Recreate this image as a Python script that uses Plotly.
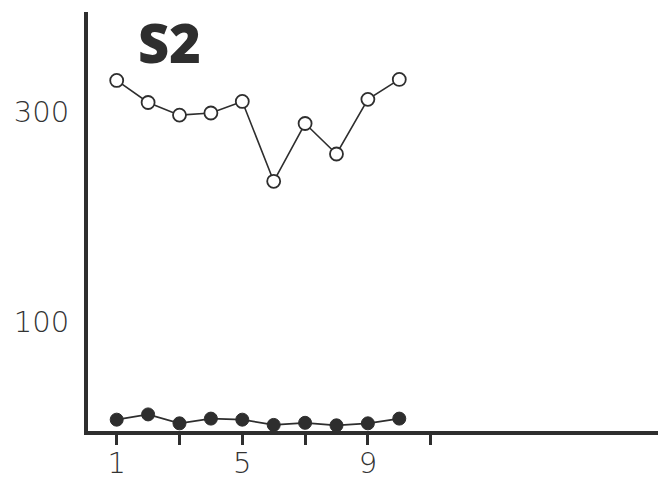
import plotly.graph_objects as go

sessions = [1, 2, 3, 4, 5, 6, 7, 8, 9, 10]
open_vals = [330, 309, 297, 299, 310, 234, 289, 260, 312, 331]
filled_vals = [7, 12, 3.5, 8, 7, 2, 4, 1.6, 3.5, 8]

x_tickvals = [1, 3, 5, 7, 9, 11]
x_ticktext = ["1", "", "5", "", "9", ""]
y_tickvals = [100, 300]
y_ticktext = ["100", "300"]

ink = "#2e2e2e"
label_col = "#333333"
label_font = dict(family="DejaVu Sans", size=29, color=label_col, weight=200)

fig = go.Figure()
fig.add_trace(go.Scatter(
    x=sessions, y=open_vals, mode="lines+markers",
    line=dict(color=ink, width=1.6),
    marker=dict(symbol="circle", size=13, color="white", line=dict(color=ink, width=1.8)),
    showlegend=False, cliponaxis=False,
))
fig.add_trace(go.Scatter(
    x=sessions, y=filled_vals, mode="lines+markers",
    line=dict(color=ink, width=1.8),
    marker=dict(symbol="circle", size=13, color=ink, line=dict(color=ink, width=1)),
    showlegend=False, cliponaxis=False,
))

fig.add_annotation(
    text="S2", x=(169 - 88) / 570, xref="paper", y=(431 - 45) / 419 + 0.008, yref="paper",
    yanchor="middle", xanchor="center",
    showarrow=False,
    font=dict(family="Open Sans", size=54, color=ink, weight=800),
)

fig.update_layout(
    width=658, height=480,
    margin=dict(l=88, r=0, t=12, b=49),
    paper_bgcolor="white", plot_bgcolor="white",
    xaxis=dict(
        range=[0.086, 18.24], tickvals=x_tickvals, ticktext=x_ticktext,
        showgrid=False, zeroline=False, showline=True, linecolor=ink, linewidth=4,
        ticks="outside", ticklen=10, tickwidth=3, tickcolor=ink,
        tickfont=label_font, ticklabelstandoff=-7, automargin=False,
    ),
    yaxis=dict(
        range=[-3.8, 395.2], tickvals=y_tickvals, ticktext=y_ticktext,
        showgrid=False, zeroline=False, showline=True, linecolor=ink, linewidth=4,
        ticks="", tickfont=label_font, ticklabelstandoff=9, automargin=False,
    ),
)

fig.write_html("out.html")
